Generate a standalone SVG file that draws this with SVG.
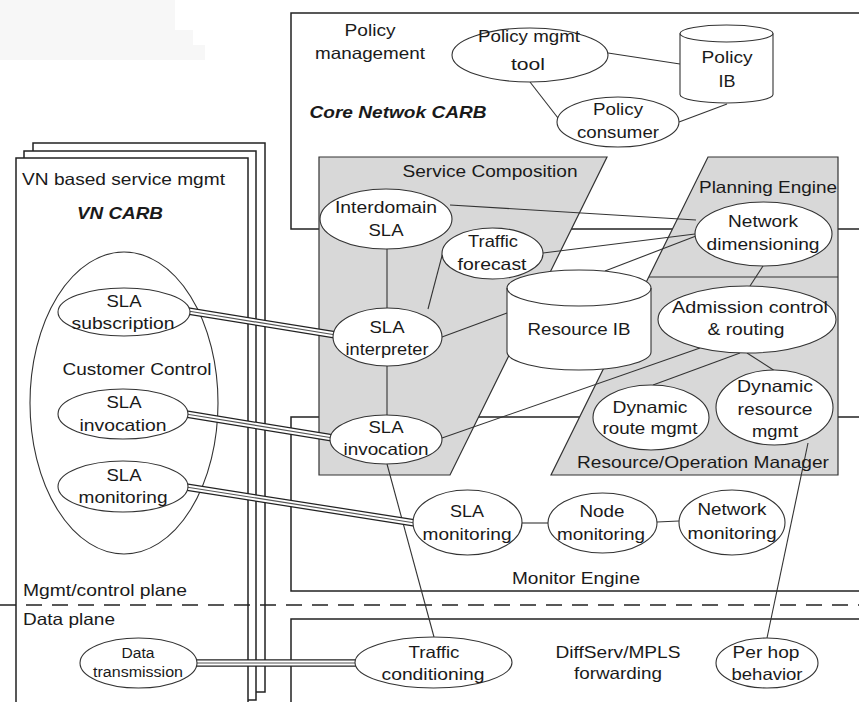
<svg xmlns="http://www.w3.org/2000/svg" xmlns:xlink="http://www.w3.org/1999/xlink" width="859" height="702" viewBox="0 0 859 702">
<style>
.t{font-family:"Liberation Sans",Arial,sans-serif;font-size:16.5px;fill:#1a1a1a;text-anchor:middle}
.s{font-size:14px}
.b{font-weight:bold;font-style:italic}
.l{text-anchor:start}
.box{fill:#fff;stroke:#222;stroke-width:1.5}
.sh{fill:#d8d8d8;stroke:#333;stroke-width:1.2}
.nd{fill:#fff;stroke:#333;stroke-width:1.1}
.ln{stroke:#333;stroke-width:1.1;fill:none}
.tb{stroke:#222;stroke-width:7.5;fill:none}
.tw{stroke:#fff;stroke-width:5;fill:none}
.tm{stroke:#555;stroke-width:1.2;fill:none}
</style>
<defs>
<path id="pA" d="M188,311 L336,335"/>
<path id="pB" d="M186,414 L333,438"/>
<path id="pC" d="M186,487 L415,523"/>
<path id="pD" d="M195,663 L357,663"/>
</defs>
<rect width="859" height="702" fill="#fff"/>
<polygon points="0,0 175,0 175,30 193,30 193,45 205,45 205,60 0,60" fill="#f7f7f7"/>

<g id="policy-box"><rect class="box" x="291" y="13" width="620" height="216"/></g>
<g id="monitor-box"><rect class="box" x="291" y="417" width="620" height="174"/></g>
<g id="data-box"><rect class="box" x="291" y="619" width="620" height="120"/></g>
<g id="vn-box">
<rect class="box" x="33" y="143" width="232" height="549"/>
<rect class="box" x="24" y="151" width="232" height="549"/>
<rect class="box" x="16" y="158" width="232" height="580"/>
</g>
<g id="service-composition"><polygon class="sh" points="319,157 607,157 450,475 319,475"/></g>
<g id="planning-resource">
<polygon class="sh" points="708,157 838,157 838,475 551,475"/>
<line class="ln" x1="649" y1="277" x2="838" y2="277" style="stroke-width:1.2"/>
</g>
<line x1="0" y1="605" x2="859" y2="605" stroke="#222" stroke-width="1.4" stroke-dasharray="16 10"/>

<g id="customer-control"><ellipse class="nd" cx="124" cy="403" rx="94" ry="151"/></g>

<g id="connectors">
<line class="ln" x1="608" y1="53" x2="680" y2="64"/>
<line class="ln" x1="530" y1="82" x2="558" y2="118"/>
<line class="ln" x1="679" y1="122" x2="727" y2="104"/>
<line class="ln" x1="387" y1="249" x2="387" y2="308"/>
<line class="ln" x1="443" y1="252" x2="428" y2="309"/>
<line class="ln" x1="442" y1="337" x2="507" y2="313"/>
<line class="ln" x1="387" y1="366" x2="387" y2="415"/>
<line class="ln" x1="442" y1="438" x2="700" y2="348"/>
<line class="ln" x1="387" y1="464" x2="434" y2="637"/>
<line class="ln" x1="450" y1="205" x2="696" y2="220"/>
<line class="ln" x1="543" y1="253" x2="695" y2="234"/>
<line class="ln" x1="605" y1="271" x2="696" y2="236"/>
<line class="ln" x1="763" y1="266" x2="750" y2="286"/>
<line class="ln" x1="653" y1="385" x2="740" y2="353"/>
<line class="ln" x1="747" y1="353" x2="775" y2="371"/>
<line class="ln" x1="808" y1="443" x2="767" y2="638"/>
<line class="ln" x1="522" y1="523" x2="548" y2="523"/>
<line class="ln" x1="657" y1="522" x2="679" y2="521"/>
<use xlink:href="#pA" class="tb"/><use xlink:href="#pA" class="tw"/><use xlink:href="#pA" class="tm"/>
<use xlink:href="#pB" class="tb"/><use xlink:href="#pB" class="tw"/><use xlink:href="#pB" class="tm"/>
<use xlink:href="#pC" class="tb"/><use xlink:href="#pC" class="tw"/><use xlink:href="#pC" class="tm"/>
<use xlink:href="#pD" class="tb"/><use xlink:href="#pD" class="tw"/><use xlink:href="#pD" class="tm"/>
</g>

<g id="labels">
<text class="t" x="370" y="36" textLength="51" lengthAdjust="spacingAndGlyphs">Policy</text>
<text class="t" x="370" y="59" textLength="110" lengthAdjust="spacingAndGlyphs">management</text>
<text class="t b" x="398" y="118" textLength="177" lengthAdjust="spacingAndGlyphs">Core Netwok CARB</text>
<text class="t l" x="22" y="185" textLength="203" lengthAdjust="spacingAndGlyphs">VN based service mgmt</text>
<text class="t b" x="120" y="219" textLength="86" lengthAdjust="spacingAndGlyphs">VN CARB</text>
<text class="t" x="137" y="375" textLength="149" lengthAdjust="spacingAndGlyphs">Customer Control</text>
<text class="t" x="490" y="177" textLength="175" lengthAdjust="spacingAndGlyphs">Service Composition</text>
<text class="t" x="768" y="193" textLength="138" lengthAdjust="spacingAndGlyphs">Planning Engine</text>
<text class="t" x="703" y="468" textLength="252" lengthAdjust="spacingAndGlyphs">Resource/Operation Manager</text>
<text class="t" x="576" y="584" textLength="128" lengthAdjust="spacingAndGlyphs">Monitor Engine</text>
<text class="t l" x="23" y="596" textLength="164" lengthAdjust="spacingAndGlyphs">Mgmt/control plane</text>
<text class="t l" x="23" y="625" textLength="92" lengthAdjust="spacingAndGlyphs">Data plane</text>
<text class="t" x="618" y="658" textLength="125" lengthAdjust="spacingAndGlyphs">DiffServ/MPLS</text>
<text class="t" x="618" y="679" textLength="88" lengthAdjust="spacingAndGlyphs">forwarding</text>
</g>

<g id="policy-mgmt-tool">
<ellipse class="nd" cx="530" cy="55" rx="78" ry="27"/>
<text class="t" x="529" y="42" textLength="102" lengthAdjust="spacingAndGlyphs">Policy mgmt</text>
<text class="t" x="528" y="70" textLength="34" lengthAdjust="spacingAndGlyphs">tool</text>
</g>
<g id="policy-ib">
<path class="nd" d="M680,33.5 A46.5,8.5 0 0 1 773,33.5 L773,94.5 A46.5,8.5 0 0 1 680,94.5 Z"/>
<path class="ln" d="M680,33.5 A46.5,8.5 0 0 0 773,33.5"/>
<text class="t" x="727" y="63" textLength="51" lengthAdjust="spacingAndGlyphs">Policy</text>
<text class="t" x="727" y="87" textLength="17" lengthAdjust="spacingAndGlyphs">IB</text>
</g>
<g id="policy-consumer">
<ellipse class="nd" cx="618" cy="122" rx="61" ry="25"/>
<text class="t" x="618" y="115" textLength="50" lengthAdjust="spacingAndGlyphs">Policy</text>
<text class="t" x="618" y="138" textLength="82" lengthAdjust="spacingAndGlyphs">consumer</text>
</g>
<g id="interdomain-sla">
<ellipse class="nd" cx="386" cy="219" rx="66" ry="30"/>
<text class="t" x="386" y="213" textLength="102" lengthAdjust="spacingAndGlyphs">Interdomain</text>
<text class="t" x="386" y="236" textLength="35" lengthAdjust="spacingAndGlyphs">SLA</text>
</g>
<g id="traffic-forecast">
<ellipse class="nd" cx="492.5" cy="253.5" rx="50.5" ry="25.5"/>
<text class="t" x="493" y="247" textLength="50" lengthAdjust="spacingAndGlyphs">Traffic</text>
<text class="t" x="492" y="270" textLength="69" lengthAdjust="spacingAndGlyphs">forecast</text>
</g>
<g id="sla-interpreter">
<ellipse class="nd" cx="387.5" cy="337" rx="54.5" ry="29"/>
<text class="t" x="387" y="333" textLength="35" lengthAdjust="spacingAndGlyphs">SLA</text>
<text class="t" x="387" y="355" textLength="83" lengthAdjust="spacingAndGlyphs">interpreter</text>
</g>
<g id="sla-invocation-core">
<ellipse class="nd" cx="386" cy="439.5" rx="56" ry="24.5"/>
<text class="t" x="386" y="433" textLength="35" lengthAdjust="spacingAndGlyphs">SLA</text>
<text class="t" x="386" y="455" textLength="85" lengthAdjust="spacingAndGlyphs">invocation</text>
</g>
<g id="resource-ib">
<path class="nd" d="M507,288 A72,18 0 0 1 651,288 L651,352 A72,18 0 0 1 507,352 Z"/>
<path class="ln" d="M507,288 A72,18 0 0 0 651,288"/>
<text class="t" x="579" y="335" textLength="103" lengthAdjust="spacingAndGlyphs">Resource IB</text>
</g>
<g id="network-dimensioning">
<ellipse class="nd" cx="763.5" cy="234" rx="68.5" ry="32"/>
<text class="t" x="763" y="227" textLength="70" lengthAdjust="spacingAndGlyphs">Network</text>
<text class="t" x="763" y="250" textLength="113" lengthAdjust="spacingAndGlyphs">dimensioning</text>
</g>
<g id="admission-control">
<ellipse class="nd" cx="747" cy="319.5" rx="89" ry="33.5"/>
<text class="t" x="750" y="313" textLength="156" lengthAdjust="spacingAndGlyphs">Admission control</text>
<text class="t" x="746" y="335" textLength="77" lengthAdjust="spacingAndGlyphs">&amp; routing</text>
</g>
<g id="dynamic-route-mgmt">
<ellipse class="nd" cx="651" cy="417.5" rx="58" ry="32.5"/>
<text class="t" x="650" y="413" textLength="75" lengthAdjust="spacingAndGlyphs">Dynamic</text>
<text class="t" x="650" y="434" textLength="95" lengthAdjust="spacingAndGlyphs">route mgmt</text>
</g>
<g id="dynamic-resource-mgmt">
<ellipse class="nd" cx="774.5" cy="407.5" rx="58.5" ry="37.5"/>
<text class="t" x="775" y="392" textLength="76" lengthAdjust="spacingAndGlyphs">Dynamic</text>
<text class="t" x="775" y="415" textLength="75" lengthAdjust="spacingAndGlyphs">resource</text>
<text class="t" x="775" y="437" textLength="46" lengthAdjust="spacingAndGlyphs">mgmt</text>
</g>
<g id="sla-monitoring-core">
<ellipse class="nd" cx="467.5" cy="522.5" rx="54.5" ry="32.5"/>
<text class="t" x="467" y="517" textLength="34" lengthAdjust="spacingAndGlyphs">SLA</text>
<text class="t" x="467" y="540" textLength="89" lengthAdjust="spacingAndGlyphs">monitoring</text>
</g>
<g id="node-monitoring">
<ellipse class="nd" cx="602.5" cy="523" rx="54.5" ry="30"/>
<text class="t" x="602" y="517" textLength="45" lengthAdjust="spacingAndGlyphs">Node</text>
<text class="t" x="601" y="540" textLength="88" lengthAdjust="spacingAndGlyphs">monitoring</text>
</g>
<g id="network-monitoring">
<ellipse class="nd" cx="732" cy="522.5" rx="53" ry="32.5"/>
<text class="t" x="732" y="515" textLength="69" lengthAdjust="spacingAndGlyphs">Network</text>
<text class="t" x="732" y="539" textLength="89" lengthAdjust="spacingAndGlyphs">monitoring</text>
</g>
<g id="sla-subscription">
<ellipse class="nd" cx="124" cy="312" rx="66" ry="24"/>
<text class="t" x="124" y="307" textLength="35" lengthAdjust="spacingAndGlyphs">SLA</text>
<text class="t" x="123" y="329" textLength="103" lengthAdjust="spacingAndGlyphs">subscription</text>
</g>
<g id="sla-invocation-vn">
<ellipse class="nd" cx="123" cy="414" rx="65" ry="25"/>
<text class="t" x="124" y="408" textLength="35" lengthAdjust="spacingAndGlyphs">SLA</text>
<text class="t" x="123" y="431" textLength="87" lengthAdjust="spacingAndGlyphs">invocation</text>
</g>
<g id="sla-monitoring-vn">
<ellipse class="nd" cx="123" cy="486.5" rx="65" ry="25.5"/>
<text class="t" x="124" y="481" textLength="35" lengthAdjust="spacingAndGlyphs">SLA</text>
<text class="t" x="123" y="503" textLength="89" lengthAdjust="spacingAndGlyphs">monitoring</text>
</g>
<g id="data-transmission">
<ellipse class="nd" cx="138.5" cy="663" rx="58.5" ry="25"/>
<text class="t s" x="138" y="658" textLength="33" lengthAdjust="spacingAndGlyphs">Data</text>
<text class="t s" x="138" y="677" textLength="90" lengthAdjust="spacingAndGlyphs">transmission</text>
</g>
<g id="traffic-conditioning">
<ellipse class="nd" cx="433.5" cy="662.5" rx="78.5" ry="25.5"/>
<text class="t" x="434" y="658" textLength="51" lengthAdjust="spacingAndGlyphs">Traffic</text>
<text class="t" x="433" y="680" textLength="103" lengthAdjust="spacingAndGlyphs">conditioning</text>
</g>
<g id="per-hop-behavior">
<ellipse class="nd" cx="767" cy="663" rx="51" ry="25"/>
<text class="t" x="766" y="658" textLength="67" lengthAdjust="spacingAndGlyphs">Per hop</text>
<text class="t" x="767" y="680" textLength="71" lengthAdjust="spacingAndGlyphs">behavior</text>
</g>
</svg>
